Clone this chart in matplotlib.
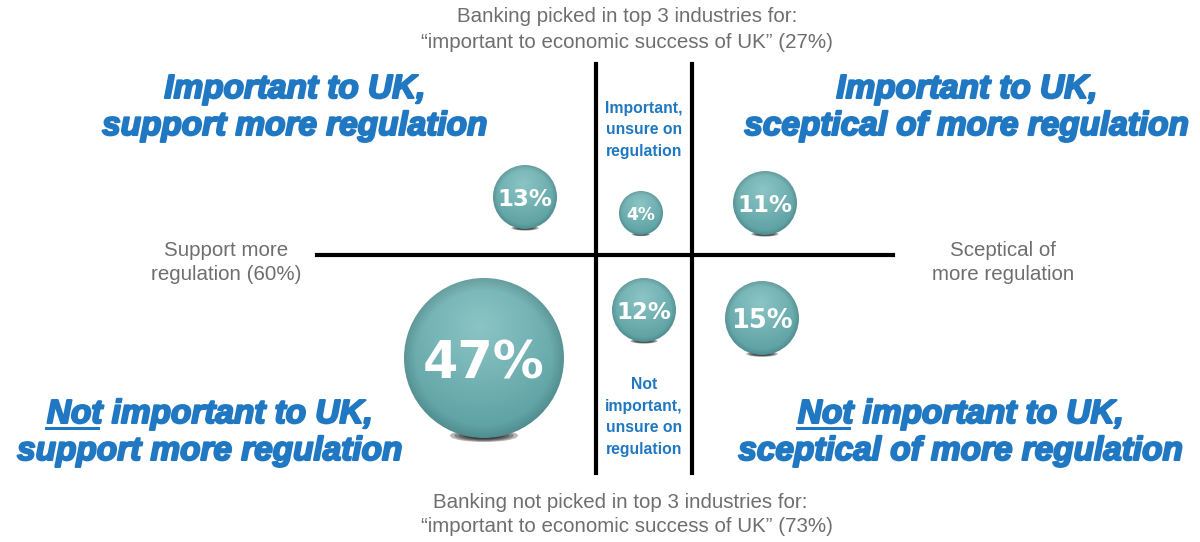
import numpy as np
import matplotlib.pyplot as plt
import matplotlib.patheffects as pe
from matplotlib.patches import Circle, Ellipse

# share of respondents in each segment (%)
segments = ["Important, support", "Important, unsure", "Important, sceptical",
            "Not important, support", "Not important, unsure", "Not important, sceptical"]
shares = [13, 4, 11, 47, 12, 15]

top_label = ["Banking picked in top 3 industries for:",
             "\u201cimportant to economic success of UK\u201d (27%)"]
bottom_label = ["Banking not picked in top 3 industries for:",
                "\u201cimportant to economic success of UK\u201d (73%)"]
left_label = ["Support more", "regulation (60%)"]
right_label = ["Sceptical of", "more regulation"]

corner_titles = [["Important to UK,", "support more regulation"],
                 ["Important to UK,", "sceptical of more regulation"],
                 ["Not important to UK,", "support more regulation"],
                 ["Not important to UK,", "sceptical of more regulation"]]
middle_titles = ["Important,\nunsure on\nregulation",
                 "Not\nimportant,\nunsure on\nregulation"]

# layout (pixels)
W, H = 1200, 542
ball_xy = [(525, 197), (641, 213), (765, 203), (484, 358), (644, 310), (762, 318)]
ball_r = [32, 22, 32, 80, 32, 37]
corner_xy = [(295, 98), (967, 98), (210, 423), (961, 423)]

blue = "#1f78c1"
grey = "#6e6e6e"

fig = plt.figure(figsize=(12, 5.42), dpi=100)
ax = fig.add_axes([0, 0, 1, 1])
ax.axis("off")


def draw_ball(cx, cy, r, label):
    # soft shadow under the ball
    for k in range(6):
        f = 1 - k * 0.13
        ax.add_patch(Ellipse((cx, cy + 0.97 * r), 0.85 * r * f, 0.16 * r * f,
                             color="#111111", alpha=0.3, lw=0, zorder=2))
    n = 200
    yy, xx = np.mgrid[-1:1:n * 1j, -1:1:n * 1j]
    d = np.hypot(xx + 0.05, yy + 0.4)
    e = np.hypot(xx, yy)
    light = np.array([0.55, 0.77, 0.77])
    dark = np.array([0.36, 0.63, 0.64])
    t = np.clip(d / 1.35, 0, 1)[..., None]
    rgb = light * (1 - t) + dark * t
    rgb = rgb * (1 - 0.12 * np.clip((e - 0.85) / 0.15, 0, 1))[..., None]
    img = np.dstack([np.clip(rgb, 0, 1), np.ones((n, n))])
    im = ax.imshow(img, extent=(cx - r, cx + r, cy + r, cy - r), origin="upper",
                   zorder=3, interpolation="bilinear")
    im.set_clip_path(Circle((cx, cy), r, transform=ax.transData))
    ax.text(cx, cy + 0.08 * r, label, color="white", fontsize=0.42 * r + 3,
            fontweight="bold", ha="center", va="center", zorder=4,
            family="DejaVu Sans")


for (cx, cy), r, v in zip(ball_xy, ball_r, shares):
    draw_ball(cx, cy, r, f"{v}%")

# quadrant lines
ax.plot([317, 893], [255, 255], color="black", lw=3, zorder=1)
ax.plot([596, 596], [64, 473], color="black", lw=3, zorder=1)
ax.plot([692, 692], [64, 473], color="black", lw=3, zorder=1)

# axis captions
gfont = dict(color=grey, fontsize=14.8, family="Liberation Sans", ha="center", va="center")
ax.text(627, 17, top_label[0], **gfont)
ax.text(627, 43, top_label[1], **gfont)
ax.text(620, 503, bottom_label[0], **gfont)
ax.text(627, 527, bottom_label[1], **gfont)
ax.text(226, 250, left_label[0], **gfont)
ax.text(226, 275, left_label[1], **gfont)
ax.text(1003, 250, right_label[0], **gfont)
ax.text(1003, 275, right_label[1], **gfont)

# middle column titles
mfont = dict(color=blue, fontsize=11.3, fontweight="bold", ha="center", va="center",
             linespacing=1.55, family="Liberation Sans")
ax.text(644, 130, middle_titles[0], **mfont)
ax.text(644, 417, middle_titles[1], **mfont)

# corner titles
cfont = dict(color=blue, fontsize=24, fontweight="bold", style="italic",
             family="Liberation Sans", ha="center", va="baseline",
             path_effects=[pe.withStroke(linewidth=1.5, foreground=blue)])
ax.set_xlim(0, W)
ax.set_ylim(H, 0)
ax.set_aspect("auto")
fig.canvas.draw()
renderer = fig.canvas.get_renderer()
for (x, y), lines in zip(corner_xy, corner_titles):
    t1 = ax.text(x, y, lines[0], **cfont)
    ax.text(x, y + 37, lines[1], **cfont)
    if lines[0].startswith("Not"):
        bb = t1.get_window_extent(renderer)
        tmp = ax.text(0, 0, "Not", **cfont)
        wn = tmp.get_window_extent(renderer).width
        tmp.remove()
        x0 = bb.x0
        ax.plot([x0 - 1, x0 + wn - 5], [y + 5, y + 5], color=blue, lw=2.2)

ax.set_xlim(0, W)
ax.set_ylim(H, 0)
fig.savefig("out.png", dpi=100)
